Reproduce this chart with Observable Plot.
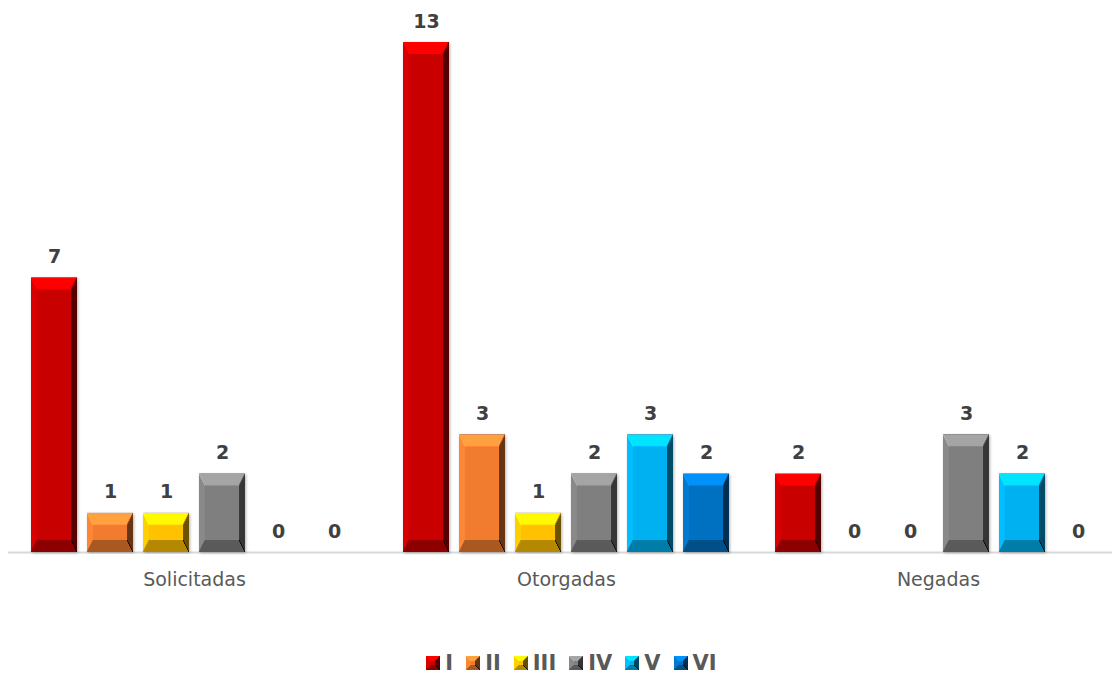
<!DOCTYPE html>
<html>
<head>
<meta charset="utf-8">
<script src="https://cdn.jsdelivr.net/npm/d3@7"></script>
<script src="https://cdn.jsdelivr.net/npm/@observablehq/plot@0.6"></script>
<style>
  html, body { margin: 0; padding: 0; background: #fff; }
  #chart { width: 1112px; height: 676px; position: relative; overflow: hidden; }
  #legend { margin-top: 36px; position: relative; left: 22px; }
  .lg-swatches { justify-content: center; font-family: "DejaVu Sans", sans-serif; font-weight: bold; font-size: 21px; color: #595959; }
  .lg-swatch { margin-right: 13px !important; }
  .lg-swatch svg { margin-right: 5px !important; overflow: visible; }
  .lg-swatch svg rect { filter: url(#bevelSmall); }
</style>
</head>
<body>
<svg width="0" height="0" style="position:absolute"><defs id="fdefs"></defs></svg>
<div id="chart"></div>
<script>
const categories = ["Solicitadas", "Otorgadas", "Negadas"];
const series = ["I", "II", "III", "IV", "V", "VI"];
const colors = ["#c80000", "#f07c30", "#ffc000", "#7f7f7f", "#00b0f0", "#0070c0"];
const solicitadas = [7, 1, 1, 2, 0, 0];
const otorgadas = [13, 3, 1, 2, 3, 2];
const negadas = [2, 0, 0, 3, 2, 0];

// bevel filter: chamfered faces from stacked erosions
function bevelFilter(id, N, sy, wT, wL, wR, wB, shadow) {
  let p = [];
  for (let k = 1; k < N; k++) {
    p.push(`<feMorphology in="SourceAlpha" operator="erode" radius="${k} ${k * sy}" result="e${k}"/>`);
  }
  const f = 1 / N;
  p.push(`<feComposite in="SourceAlpha" in2="e1" operator="arithmetic" k1="0" k2="${f}" k3="${f}" k4="0" result="s1"/>`);
  for (let k = 2; k < N; k++) {
    p.push(`<feComposite in="s${k - 1}" in2="e${k}" operator="arithmetic" k1="0" k2="1" k3="${f}" k4="0" result="s${k}"/>`);
  }
  const h = `s${N - 1}`;
  const dirs = [["T", 0, sy], ["B", 0, -sy], ["L", 1, 0], ["R", -1, 0]];
  for (const [n, dx, dy] of dirs) {
    p.push(`<feOffset in="${h}" dx="${dx}" dy="${dy}" result="o${n}"/>`);
    p.push(`<feComposite in="${h}" in2="o${n}" operator="arithmetic" k1="0" k2="${N}" k3="${-N}" k4="0" result="m${n}"/>`);
  }
  p.push(`<feComposite in="mT" in2="mL" operator="arithmetic" k1="0" k2="${wT / 2}" k3="${wL / 2}" k4="0.5" result="g1"/>`);
  p.push(`<feComposite in="g1" in2="mR" operator="arithmetic" k1="0" k2="1" k3="${-wR / 2}" k4="0" result="g2"/>`);
  p.push(`<feComposite in="g2" in2="mB" operator="arithmetic" k1="0" k2="1" k3="${-wB / 2}" k4="0" result="g3"/>`);
  p.push(`<feColorMatrix in="g3" type="matrix" values="0 0 0 1 0  0 0 0 1 0  0 0 0 1 0  0 0 0 0 1" result="G"/>`);
  p.push(`<feComposite in="SourceGraphic" in2="G" operator="arithmetic" k1="2" k2="0" k3="0" k4="0" result="lit"/>`);
  p.push(`<feComposite in="lit" in2="SourceAlpha" operator="in" result="bev"/>`);
  if (shadow) {
    p.push(`<feGaussianBlur in="SourceAlpha" stdDeviation="1.5" result="sb"/>`);
    p.push(`<feOffset in="sb" dx="1.2" dy="1" result="so"/>`);
    p.push(`<feComponentTransfer in="so" result="shadow"><feFuncA type="linear" slope="0.3"/></feComponentTransfer>`);
    p.push(`<feMerge><feMergeNode in="shadow"/><feMergeNode in="bev"/></feMerge>`);
  }
  return `<filter id="${id}" x="-15%" y="-5%" width="130%" height="110%" color-interpolation-filters="sRGB">${p.join("")}</filter>`;
}
document.getElementById("fdefs").innerHTML =
  bevelFilter("bevel", 6, 2, 0.3, 0.08, 0.58, 0.3, true) +
  bevelFilter("bevelSmall", 5, 1, 0.3, 0.08, 0.6, 0.3, false);

const valuesByCategory = [solicitadas, otorgadas, negadas];
const data = categories.flatMap((c, i) =>
  series.map((s, j) => ({category: c, series: s, value: valuesByCategory[i][j]}))
);

const chart = Plot.plot({
  width: 1112,
  height: 610,
  marginTop: 42,
  marginBottom: 58,
  marginLeft: 8,
  marginRight: 0,
  style: {fontFamily: "DejaVu Sans, sans-serif", fontSize: "19px", color: "#595959", background: "transparent", overflow: "visible"},
  fx: {domain: categories, range: [8, 1124], padding: 0, axis: "bottom", tickSize: 0, tickPadding: 20, label: null},
  x: {domain: series, axis: null, paddingInner: 0.18, paddingOuter: 0.39},
  y: {domain: [0, 13], axis: null},
  color: {domain: series, range: colors},
  marks: [
    Plot.ruleY([0], {stroke: "#d9d9d9", strokeWidth: 2}),
    Plot.barY(data, {fx: "category", x: "series", y: "value", fill: "series"}),
    Plot.text(data, {fx: "category", x: "series", y: "value", text: d => String(d.value),
      lineAnchor: "bottom", dy: -15, fill: "#404040", fontWeight: "bold", fontSize: 19})
  ]
});

d3.select(chart).selectAll('g[aria-label="bar"] rect').attr("filter", "url(#bevel)");

const container = document.getElementById("chart");
container.appendChild(chart);

const legend = Plot.legend({
  color: {domain: series, range: colors},
  legend: "swatches",
  swatchSize: 14,
  className: "lg"
});
const lw = document.createElement("div");
lw.id = "legend";
lw.appendChild(legend);
container.appendChild(lw);
</script>
</body>
</html>
